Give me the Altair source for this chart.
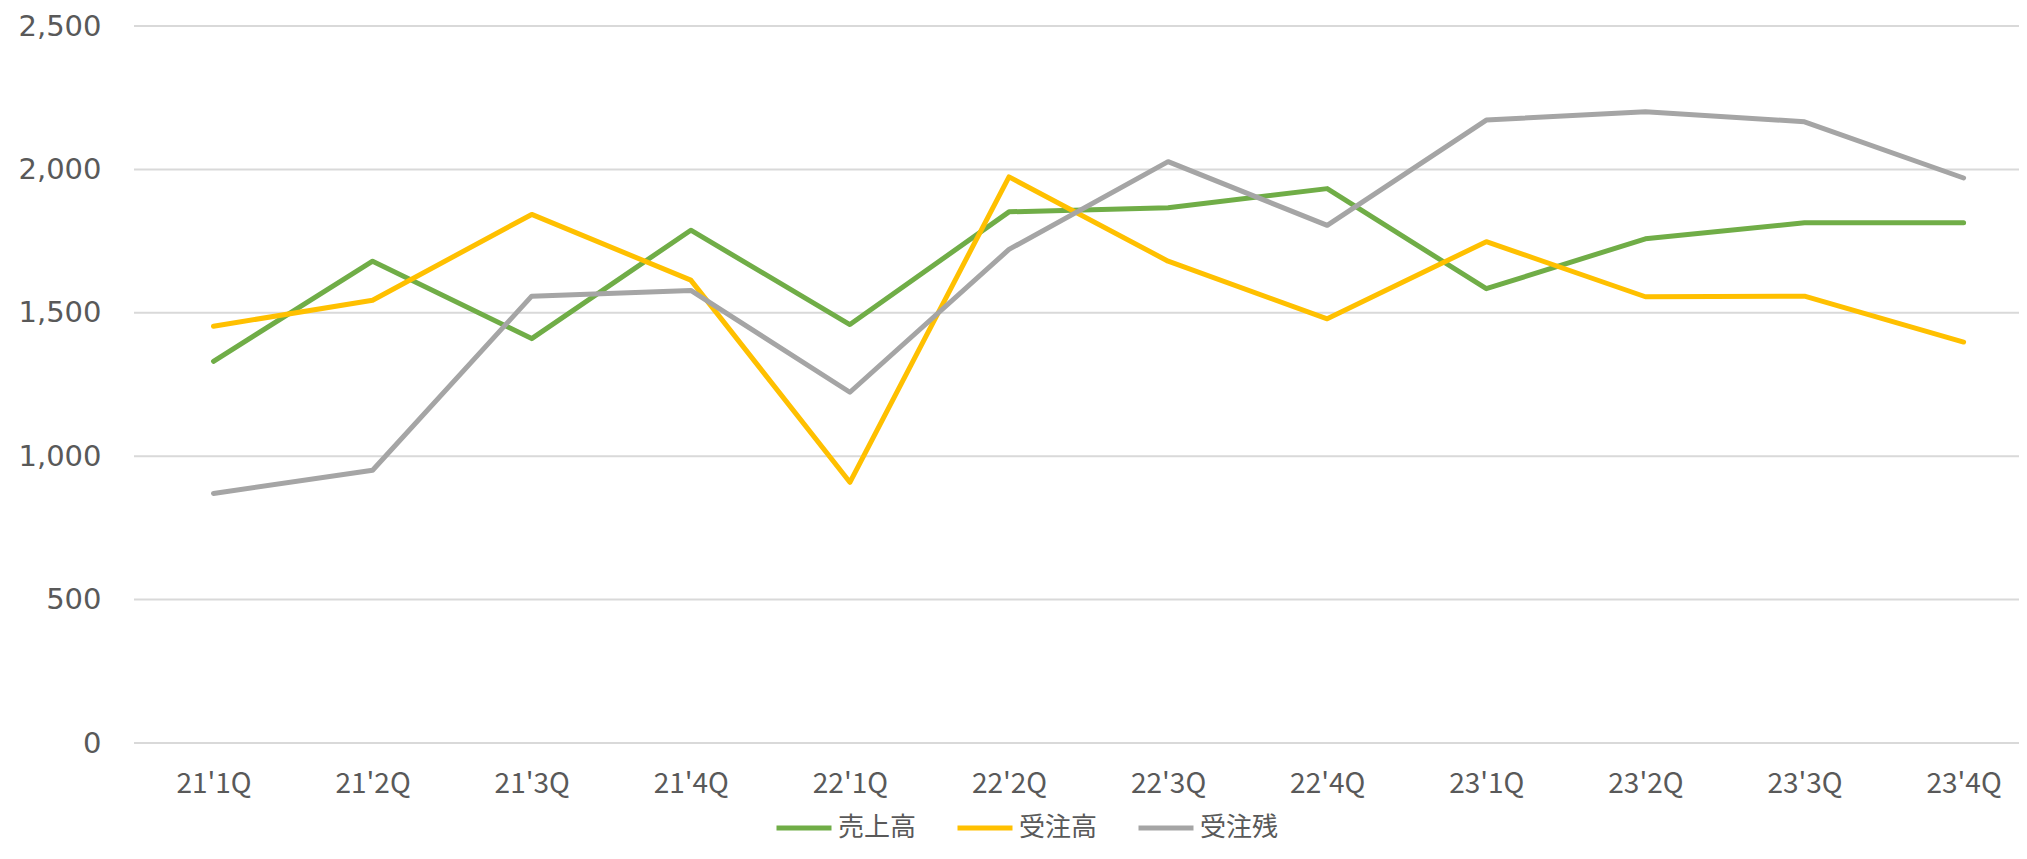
import altair as alt
import pandas as pd

quarters = ["21'1Q", "21'2Q", "21'3Q", "21'4Q", "22'1Q", "22'2Q",
            "22'3Q", "22'4Q", "23'1Q", "23'2Q", "23'3Q", "23'4Q"]
sales = [1331, 1680, 1410, 1788, 1459, 1852, 1866, 1933, 1584, 1758, 1814, 1814]
orders = [1453, 1544, 1843, 1614, 909, 1974, 1680, 1479, 1748, 1556, 1558, 1398]
backlog = [870, 951, 1558, 1578, 1223, 1721, 2027, 1805, 2172, 2201, 2166, 1970]
series_names = ["売上高", "受注高", "受注残"]
colors = ["#70AD47", "#FFC000", "#A5A5A5"]
y_ticks = [0, 500, 1000, 1500, 2000, 2500]

rows = []
for name, vals in zip(series_names, [sales, orders, backlog]):
    for q, v in zip(quarters, vals):
        rows.append({"quarter": q, "series": name, "value": v})
df = pd.DataFrame(rows)
grid_df = pd.DataFrame({"value": y_ticks})

text_color = "#595959"
W, H = 1885, 717

y_scale = alt.Scale(domain=[0, 2500], nice=False, zero=True)
y_axis = alt.Axis(title=None, values=y_ticks, format=",d", ticks=False, tickSize=0, domain=False,
                  grid=False, labelFont="DejaVu Sans", labelFontSize=29, labelColor=text_color,
                  labelPadding=33)

grid = alt.Chart(grid_df).mark_rule(color="#D9D9D9", strokeWidth=2).encode(
    y=alt.Y("value:Q", scale=y_scale, axis=y_axis),
    x=alt.value(0),
    x2=alt.value(W),
)

lines = alt.Chart(df).mark_line(strokeWidth=5, strokeCap="round", strokeJoin="round").encode(
    x=alt.X("quarter:N", sort=quarters,
            scale=alt.Scale(type="point", range=[79.5, 1829.6], padding=0),
            axis=alt.Axis(title=None, labelAngle=0, ticks=False, tickSize=0, domain=False, grid=False,
                          labelFont="Noto Sans CJK JP", labelFontSize=28, labelColor=text_color,
                          labelPadding=27, labelBaseline="top")),
    y=alt.Y("value:Q", scale=y_scale, axis=y_axis),
    color=alt.Color("series:N", sort=series_names,
                    scale=alt.Scale(domain=series_names, range=colors),
                    legend=alt.Legend(title=None, orient="none", direction="horizontal",
                                      legendX=640, legendY=772, padding=0,
                                      symbolType="stroke", symbolSize=3025, symbolStrokeWidth=5,
                                      labelFont="Noto Sans CJK JP", labelFontSize=26,
                                      labelColor=text_color, labelOffset=4, columnPadding=30)),
)

chart = alt.layer(grid, lines).properties(
    width=W,
    height=H,
    autosize=alt.AutoSizeParams(type="none"),
    padding={"left": 126, "top": 18, "right": 0, "bottom": 100},
    background="white",
).configure_view(stroke=None)

chart.save("out.html", embed_options={"renderer": "svg", "actions": False})
